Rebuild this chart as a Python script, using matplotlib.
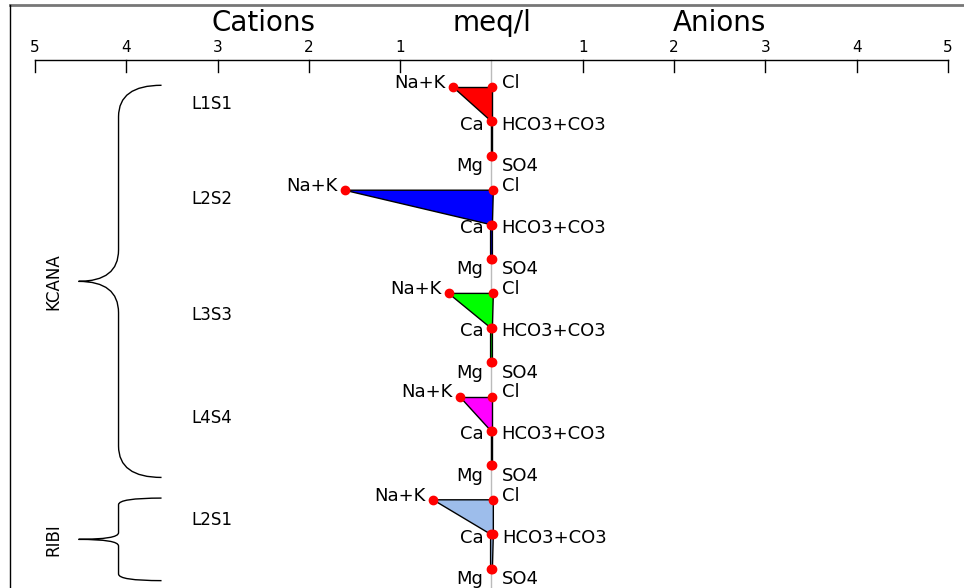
import matplotlib
matplotlib.use("Agg")
from matplotlib import pyplot as plt
from matplotlib.path import Path
from matplotlib.patches import PathPatch, Polygon

# samples, groups and fill colours
samples = ["L1S1", "L2S2", "L3S3", "L4S4", "L2S1"]
groups = ["KCANA", "KCANA", "KCANA", "KCANA", "RIBI"]
colors = ["#FF0000", "#0000FF", "#00FF00", "#FF00FF", "#9DBDEB"]

# meq/l values
na_k = [0.42, 1.61, 0.47, 0.35, 0.64]
ca = [0.01, 0.01, 0.01, 0.01, 0.01]
mg = [0.01, 0.01, 0.01, 0.01, 0.01]
cl = [0.01, 0.02, 0.02, 0.01, 0.02]
hco3 = [0.01, 0.01, 0.01, 0.01, 0.02]
so4 = [0.01, 0.01, 0.01, 0.01, 0.01]

cation_names = ["Na+K", "Ca", "Mg"]
anion_names = ["Cl", "HCO3+CO3", "SO4"]
tick_values = [1, 2, 3, 4, 5]

# layout only
label_shift = [0.5, 0.25, 0.63, 0.62, 0.6]
ion_dy = [-0.12, 0.1, 0.3]

fig = plt.figure(figsize=(9.64, 5.88), dpi=100)
ax = fig.add_axes([0, 0, 1, 1])
ax.axis("off")
ax.set_xlim(-491.5 / 91.3, (964 - 491.5) / 91.3)
ax.set_ylim((588 - 87) / 34.4, -87 / 34.4)

# frame
ax.plot([10 / 964, 1], [1 - 5 / 588, 1 - 5 / 588], color="#777777", lw=2,
        transform=ax.transAxes, clip_on=False)
ax.plot([10 / 964, 10 / 964], [0, 1 - 5 / 588], color="black", lw=1,
        transform=ax.transAxes, clip_on=False)

# top scale
axis_y = -0.785
ax.plot([-5, 5], [axis_y, axis_y], color="black", lw=1)
for t in tick_values:
    for s in (-1, 1):
        ax.plot([s * t, s * t], [axis_y, axis_y + 0.35], color="black", lw=1)
        ax.text(s * t, axis_y - 0.36, str(t), ha="center", va="center", fontsize=11)
ax.text(-2.5, -1.85, "Cations", ha="center", va="center", fontsize=20)
ax.text(0, -1.85, "meq/l", ha="center", va="center", fontsize=20)
ax.text(2.5, -1.85, "Anions", ha="center", va="center", fontsize=20)

# centre line
ax.plot([0, 0], [axis_y, ax.get_ylim()[0]], color="#BBBBBB", lw=1, zorder=1)

for i in range(len(samples)):
    r = [3 * i, 3 * i + 1, 3 * i + 2]
    cat = [na_k[i], ca[i], mg[i]]
    an = [cl[i], hco3[i], so4[i]]
    verts = [(-cat[0], r[0]), (an[0], r[0]), (an[1], r[1]), (an[2], r[2]),
             (-cat[2], r[2]), (-cat[1], r[1])]
    ax.add_patch(Polygon(verts, closed=True, facecolor=colors[i],
                         edgecolor="black", lw=1, zorder=2))
    ax.plot([-c for c in cat] + an, r + r, "o", color="red", ms=6, zorder=4)
    for k in range(3):
        ax.text(-cat[k] - 0.08, r[k] + ion_dy[k], cation_names[k],
                ha="right", va="center", fontsize=13)
        ax.text(an[k] + 0.1, r[k] + ion_dy[k], anion_names[k],
                ha="left", va="center", fontsize=13)
    ax.text(-3.285, r[0] + label_shift[i], samples[i], ha="left", va="center",
            fontsize=12)


def draw_brace(top, bottom, label):
    xe, xv, xt = -3.614, -4.085, -4.523
    mid = (top + bottom) / 2
    c = 0.08 * (bottom - top)
    verts = [(xe, top), (xv, top), (xv, top + c), (xv, mid - c),
             (xv, mid), (xt, mid), (xv, mid), (xv, mid + c),
             (xv, bottom - c), (xv, bottom), (xe, bottom)]
    codes = [Path.MOVETO, Path.CURVE3, Path.CURVE3, Path.LINETO,
             Path.CURVE3, Path.CURVE3, Path.CURVE3, Path.CURVE3,
             Path.LINETO, Path.CURVE3, Path.CURVE3]
    ax.add_patch(PathPatch(Path(verts, codes), facecolor="none",
                           edgecolor="black", lw=1))
    ax.text(-4.8, mid, label, rotation=90, ha="center", va="center",
            fontsize=12, family=["Liberation Sans Narrow", "DejaVu Sans"])


done = []
for g in groups:
    if g in done:
        continue
    done.append(g)
    idx = [i for i in range(len(groups)) if groups[i] == g]
    draw_brace(3 * idx[0] - 0.05, 3 * idx[-1] + 2 + 0.35, g)

plt.savefig("out.png", dpi=100)
